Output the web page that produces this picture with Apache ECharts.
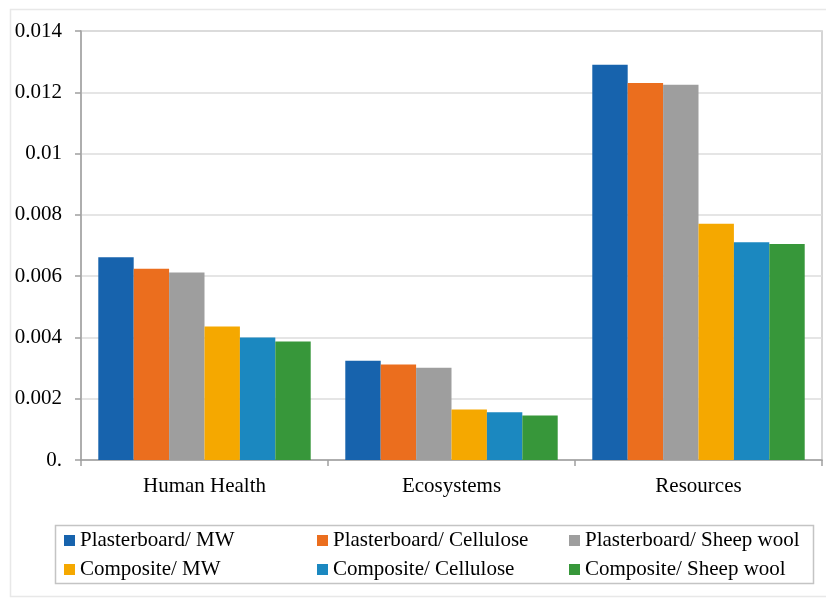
<!DOCTYPE html>
<html>
<head>
<meta charset="utf-8">
<script src="https://cdn.jsdelivr.net/npm/echarts@6/dist/echarts.min.js"></script>
<style>html,body{margin:0;padding:0;background:#fff}#c{width:826px;height:599px}</style>
</head>
<body>
<div id="c"></div>
<script>
const categories = ['Human Health', 'Ecosystems', 'Resources'];
const seriesNames = ['Plasterboard/ MW', 'Plasterboard/ Cellulose', 'Plasterboard/ Sheep wool', 'Composite/ MW', 'Composite/ Cellulose', 'Composite/ Sheep wool'];
const plasterboardMW = [0.00662, 0.00324, 0.0129];
const plasterboardCellulose = [0.00624, 0.00312, 0.0123];
const plasterboardSheep = [0.00612, 0.00301, 0.01225];
const compositeMW = [0.00436, 0.00165, 0.00771];
const compositeCellulose = [0.00400, 0.00156, 0.00711];
const compositeSheep = [0.00387, 0.00145, 0.00705];
const yTicks = {min: 0, max: 0.014, interval: 0.002};
const colors = ['#1763AD', '#EB6E1E', '#9E9E9E', '#F5A800', '#1B88C0', '#37973A'];
const values = [plasterboardMW, plasterboardCellulose, plasterboardSheep, compositeMW, compositeCellulose, compositeSheep];

const font = '"Liberation Serif", "Times New Roman", serif';
const chart = echarts.init(document.getElementById('c'), null, {renderer: 'canvas'});
const legendBase = {
  orient: 'vertical', padding: 0, itemGap: 8, itemWidth: 11, itemHeight: 11, icon: 'rect',
  textStyle: {fontFamily: font, fontSize: 21, color: '#000', lineHeight: 21}, top: 530, selectedMode: false
};
chart.setOption({
  animation: false,
  color: colors,
  graphic: [
    {type: 'rect', shape: {x: 10.5, y: 9.5, width: 830, height: 587}, style: {fill: 'none', stroke: '#e8e8e8', lineWidth: 1.5}, silent: true},
    {type: 'rect', shape: {x: 55.5, y: 525.5, width: 758, height: 58}, style: {fill: 'none', stroke: '#c4c4c4', lineWidth: 1.5}, silent: true}
  ],
  legend: [
    Object.assign({}, legendBase, {left: 64, data: [seriesNames[0], seriesNames[3]]}),
    Object.assign({}, legendBase, {left: 317, data: [seriesNames[1], seriesNames[4]]}),
    Object.assign({}, legendBase, {left: 569, data: [seriesNames[2], seriesNames[5]]})
  ],
  grid: {left: 81, top: 31, right: 4, bottom: 139, show: true, borderColor: '#c8c8c8', borderWidth: 1.5},
  xAxis: {
    type: 'category', data: categories,
    axisLine: {lineStyle: {color: '#a0a0a0', width: 1.5}},
    axisTick: {show: true, length: 6, lineStyle: {color: '#a0a0a0', width: 1.5}},
    axisLabel: {fontFamily: font, fontSize: 21, color: '#000', margin: 16}
  },
  yAxis: {
    type: 'value', min: yTicks.min, max: yTicks.max, interval: yTicks.interval,
    axisLine: {show: true, lineStyle: {color: '#a0a0a0', width: 1.5}},
    axisTick: {show: true, length: 6, lineStyle: {color: '#a0a0a0', width: 1.5}},
    splitLine: {lineStyle: {color: '#dcdcdc', width: 1.5}},
    axisLabel: {fontFamily: font, fontSize: 21, color: '#000', margin: 19,
      formatter: v => v === 0 ? '0.' : String(+v.toFixed(3))}
  },
  series: seriesNames.map((n, i) => ({
    name: n, type: 'bar', data: values[i], barGap: '0%', barCategoryGap: '14%',
    itemStyle: {color: colors[i]}
  }))
});
</script>
</body>
</html>
